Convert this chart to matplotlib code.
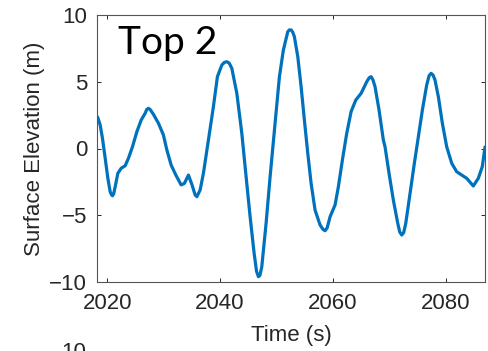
import matplotlib
matplotlib.use('Agg')
import matplotlib.pyplot as plt
import numpy as np

# values (time in s, surface elevation in m)
time_s = np.array([
    2018.2, 2018.35, 2018.76, 2019.17, 2019.65, 2020.12, 2020.53, 2020.75, 2020.94, 2021.15,
    2021.42, 2021.89, 2022.48, 2023.19, 2023.77, 2024.48, 2025.26, 2026.02, 2026.73, 2027.0,
    2027.31, 2027.65, 2028.19, 2029.08, 2029.96, 2030.57, 2031.33, 2032.16, 2033.10, 2033.68,
    2034.39, 2034.99, 2035.58, 2035.88, 2036.46, 2037.04, 2037.93, 2038.81, 2039.52, 2040.30,
    2040.75, 2041.19, 2041.6, 2042.07, 2042.96, 2043.84, 2044.60, 2045.31, 2046.02, 2046.45,
    2046.78, 2047.05, 2047.38, 2048.14, 2048.85, 2049.73, 2050.50, 2051.20, 2051.98, 2052.25,
    2052.57, 2052.85, 2053.15, 2053.75, 2054.34, 2054.92, 2055.52, 2056.11, 2056.81, 2057.70,
    2058.2, 2058.58, 2058.95, 2059.47, 2060.35, 2060.94, 2061.65, 2062.42, 2063.19, 2064.02,
    2064.96, 2065.96, 2066.4, 2066.73, 2067.05, 2067.43, 2068.14, 2068.90, 2069.20, 2069.91,
    2070.67, 2071.45, 2071.8, 2072.16, 2072.5, 2072.87, 2073.63, 2074.39, 2075.10, 2075.81,
    2076.58, 2077.0, 2077.35, 2077.7, 2078.05, 2078.64, 2079.35, 2080.12, 2081.01, 2081.89,
    2082.78, 2083.66, 2084.83, 2085.72, 2086.42, 2086.90])
elevation = np.array([
    2.40, 2.31, 1.76, 0.76, -0.73, -2.23, -3.24, -3.45, -3.54, -3.40,
    -2.86, -1.86, -1.48, -1.29, -0.73, 0.13, 1.26, 2.13, 2.64, 2.92,
    3.01, 2.90, 2.56, 1.89, 1.01, -0.11, -1.24, -1.99, -2.73, -2.61,
    -1.99, -2.68, -3.48, -3.61, -3.11, -1.86, 0.64, 3.13, 5.38, 6.25,
    6.45, 6.50, 6.40, 6.01, 4.13, 1.14, -2.11, -5.11, -7.85, -9.20,
    -9.60, -9.50, -8.85, -5.60, -2.11, 1.89, 5.38, 7.38, 8.75, 8.88,
    8.88, 8.72, 8.37, 6.88, 4.63, 2.13, -0.36, -2.61, -4.61, -5.73,
    -6.05, -6.16, -5.95, -5.11, -4.23, -2.86, -0.86, 1.14, 2.76, 3.63,
    4.13, 5.00, 5.30, 5.38, 5.15, 4.63, 2.88, 0.64, 0.13, -1.86,
    -3.86, -5.60, -6.25, -6.48, -6.30, -5.60, -3.36, -1.11, 0.88, 2.88,
    4.76, 5.45, 5.63, 5.50, 5.13, 3.88, 1.89, 0.13, -1.11, -1.74,
    -1.99, -2.23, -2.81, -2.23, -1.36, 0.11])

x_ticks = [2020, 2040, 2060, 2080]
y_ticks = [-10, -5, 0, 5, 10]

plt.rcParams['font.family'] = ['Liberation Sans', 'DejaVu Sans']
grey = '#262626'

fig = plt.figure(figsize=(4.88, 3.51), dpi=100)
ax = fig.add_axes([97/488, 69/351, 388/488, 267/351])

ax.plot(time_s, elevation, color='#0072BD', linewidth=2.3,
        solid_joinstyle='round', solid_capstyle='round')

ax.set_xlim(2018.2, 2086.9)
ax.set_ylim(-10, 10)
ax.set_xticks(x_ticks)
ax.set_yticks(y_ticks)
ax.tick_params(direction='in', length=3, width=0.7, colors=grey, labelsize=16,
               top=True, right=True, pad=7)
ax.tick_params(axis='x', pad=8)
for s in ax.spines.values():
    s.set_color('#555555')
    s.set_linewidth(0.8)

ax.set_xlabel('Time (s)', fontsize=16, color=grey)
ax.set_ylabel('Surface Elevation (m)', fontsize=16, color=grey)
ax.xaxis.set_label_coords(0.5, -0.16)
ax.yaxis.set_label_coords(-0.135, 0.5)

ax.text(0.055, 0.855, 'Top 2', transform=ax.transAxes, fontsize=28,
        family=['Lato', 'DejaVu Sans'], color='black', va='baseline', ha='left')

# top of the next panel's y labels, cut off by the figure edge as in the reference
fig.text(86/488, -0.003, '10', ha='right', va='center', fontsize=16, color=grey)

fig.savefig('out.png', dpi=100)
